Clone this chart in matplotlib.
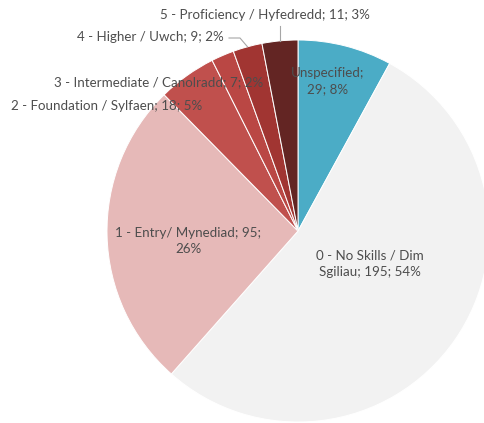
import textwrap
import matplotlib.pyplot as plt
import numpy as np

categories = ['Unspecified', '0 - No Skills / Dim Sgiliau', '1 - Entry/ Mynediad',
              '2 - Foundation / Sylfaen', '3 - Intermediate / Canolradd',
              '4 - Higher / Uwch', '5 - Proficiency / Hyfedredd']
counts = [29, 195, 95, 18, 7, 9, 11]

colors = ['#4BACC6', '#F2F2F2', '#E6B9B8', '#C0504D', '#BA4744', '#A13532', '#632523']
wrap_widths = [12, 20, 24, 100, 100, 100, 100]
# label centres in image pixels (x, y from top)
label_pos = [(328, 81), (370, 264), (188, 241), (107, 106), (159, 82), (150, 37), (265, 15)]

W, H = 485, 423
fig = plt.figure(figsize=(W / 100, H / 100), dpi=100)
ax = fig.add_axes([0, 0, 1, 1])

cx, cy, r = 298, H - 231, 191
wedges, _ = ax.pie(counts, colors=colors, startangle=90, counterclock=False,
                   center=(cx, cy), radius=r, frame=True,
                   wedgeprops=dict(edgecolor='white', linewidth=0.7))
ax.set_xlim(0, W)
ax.set_ylim(0, H)
ax.set_aspect('equal')
ax.axis('off')

total = sum(counts)
txt_color = '#4D4D4D'
for cat, n, w, (lx, ly) in zip(categories, counts, wrap_widths, label_pos):
    s = f'{cat}; {n}; {round(n / total * 100)}%'
    s = textwrap.fill(s, w)
    ax.text(lx, H - ly, s, ha='center', va='center', multialignment='center',
            fontsize=9.6, color=txt_color, family=['Lato', 'DejaVu Sans'],
            linespacing=1.4)

def edge_point(wd):
    mid = np.deg2rad((wd.theta1 + wd.theta2) / 2)
    return cx + r * np.cos(mid), cy + r * np.sin(mid)

# leader lines for the two small slices at the top
px, py = edge_point(wedges[6])
ax.plot([px, px], [py, H - 26], color='#A6A6A6', lw=0.8)
hx, hy = edge_point(wedges[5])
ax.plot([229, 240, hx], [H - 38, H - 38, hy], color='#A6A6A6', lw=0.8)

fig.savefig('out.png', dpi=100)
